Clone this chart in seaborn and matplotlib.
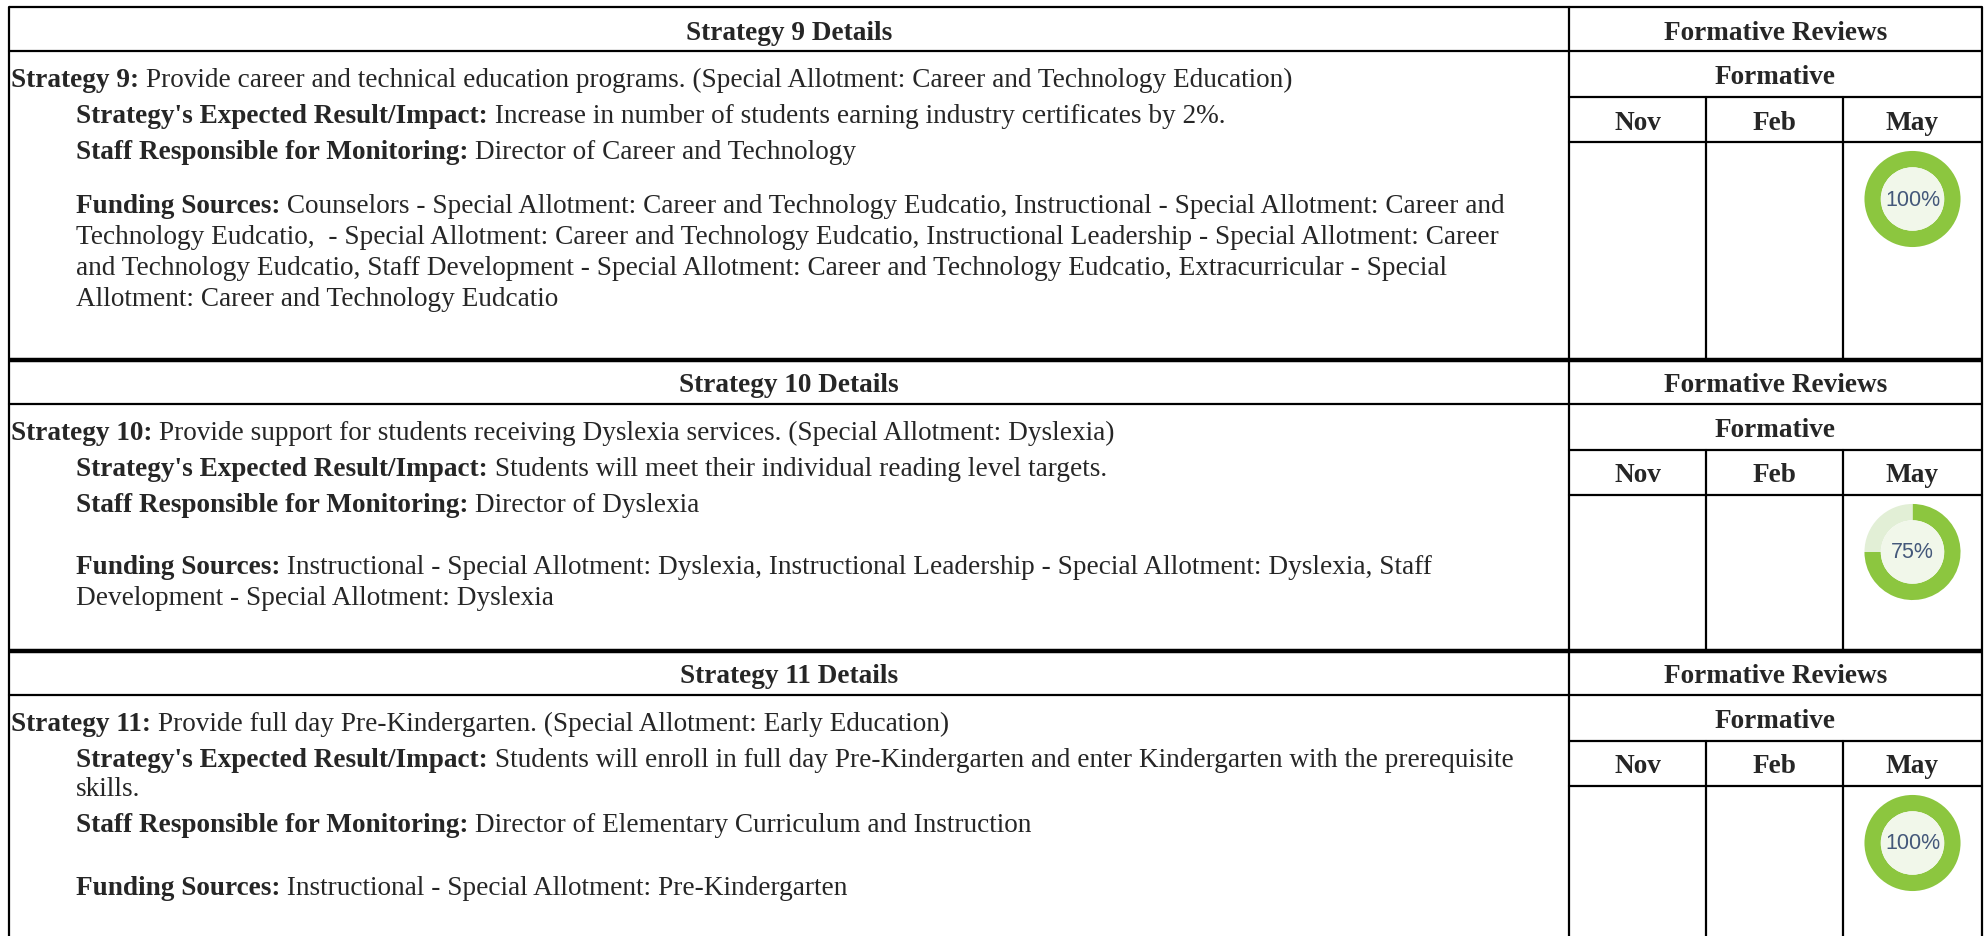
import matplotlib
matplotlib.use("Agg")
import matplotlib.pyplot as plt
import seaborn as sns

# strategy blocks
block_titles = ["Strategy 9 Details", "Strategy 10 Details", "Strategy 11 Details"]
strategy_labels = ["Strategy 9:", "Strategy 10:", "Strategy 11:"]
strategy_texts = [
    " Provide career and technical education programs. (Special Allotment: Career and Technology Education)",
    " Provide support for students receiving Dyslexia services. (Special Allotment: Dyslexia)",
    " Provide full day Pre-Kindergarten. (Special Allotment: Early Education)",
]
expected_lines = [
    [" Increase in number of students earning industry certificates by 2%."],
    [" Students will meet their individual reading level targets."],
    [" Students will enroll in full day Pre-Kindergarten and enter Kindergarten with the prerequisite",
     "skills."],
]
staff_texts = [
    " Director of Career and Technology",
    " Director of Dyslexia",
    " Director of Elementary Curriculum and Instruction",
]
funding_lines = [
    [" Counselors - Special Allotment: Career and Technology Eudcatio, Instructional - Special Allotment: Career and",
     "Technology Eudcatio,  - Special Allotment: Career and Technology Eudcatio, Instructional Leadership - Special Allotment: Career",
     "and Technology Eudcatio, Staff Development - Special Allotment: Career and Technology Eudcatio, Extracurricular - Special",
     "Allotment: Career and Technology Eudcatio"],
    [" Instructional - Special Allotment: Dyslexia, Instructional Leadership - Special Allotment: Dyslexia, Staff",
     "Development - Special Allotment: Dyslexia"],
    [" Instructional - Special Allotment: Pre-Kindergarten"],
]
review_months = ["Nov", "Feb", "May"]
may_progress = [100, 75, 100]

# page geometry (pixels)
W, H = 1984, 937
block_tops = [8, 361, 652]
block_bottoms = [361, 652, 960]
funding_gap = [54, 62, 63]
x_left, x_split, x_right = 9, 1569, 1982
month_x = [1569, 1706, 1843, 1982]
row_h = 45

sns.set_theme(style="white")
plt.rcParams["font.family"] = ["Liberation Serif", "DejaVu Serif"]
FS = 19.6

fig = plt.figure(figsize=(W / 100, H / 100), dpi=100)
ax = fig.add_axes([0, 0, 1, 1])
ax.set_xlim(0, W)
ax.set_ylim(H, 0)
ax.axis("off")

lw = 1.6


def label_line(x, y, bold, rest):
    t = ax.text(x, y, bold, fontsize=FS, fontweight="bold", va="baseline", ha="left")
    ax.annotate(rest, xy=(1, 0), xycoords=t, fontsize=FS, va="bottom", ha="left")


for i, top in enumerate(block_tops):
    bot = block_bottoms[i]
    # horizontal rules
    ax.plot([x_left, x_right], [top, top], color="black", lw=lw if i == 0 else 3.2,
            solid_capstyle="butt")
    ax.plot([x_left, x_right], [top + row_h - 1, top + row_h - 1], color="black", lw=lw)
    ax.plot([x_split, x_right], [top + 2 * row_h, top + 2 * row_h], color="black", lw=lw)
    ax.plot([x_split, x_right], [top + 3 * row_h, top + 3 * row_h], color="black", lw=lw)
    # vertical rules
    ax.plot([x_split, x_split], [top, bot], color="black", lw=lw)
    for mx in month_x[1:-1]:
        ax.plot([mx, mx], [top + 2 * row_h, bot], color="black", lw=lw)

    # headers
    ax.text((x_left + x_split) / 2, top + 22, block_titles[i], fontsize=FS,
            fontweight="bold", ha="center", va="center_baseline")
    ax.text((x_split + x_right) / 2, top + 22, "Formative Reviews", fontsize=FS,
            fontweight="bold", ha="center", va="center_baseline")
    ax.text((x_split + x_right) / 2, top + 67, "Formative", fontsize=FS,
            fontweight="bold", ha="center", va="center_baseline")
    for j, m in enumerate(review_months):
        ax.text((month_x[j] + month_x[j + 1]) / 2, top + 112, m, fontsize=FS,
                fontweight="bold", ha="center", va="center_baseline")

    # body text
    y = top + 79
    label_line(11, y, strategy_labels[i], strategy_texts[i])
    y += 36
    label_line(76, y, "Strategy's Expected Result/Impact:", expected_lines[i][0])
    for line in expected_lines[i][1:]:
        y += 29
        ax.text(76, y, line, fontsize=FS, va="baseline", ha="left")
    y += 36
    label_line(76, y, "Staff Responsible for Monitoring:", staff_texts[i])
    y += funding_gap[i]
    label_line(76, y, "Funding Sources:", funding_lines[i][0])
    for line in funding_lines[i][1:]:
        y += 31
        ax.text(76, y, line, fontsize=FS, va="baseline", ha="left")

    # May progress donut
    cx = (month_x[2] + month_x[3]) / 2
    cy = top + 3 * row_h + 57
    r = 49
    dax = fig.add_axes([(cx - r) / W, 1 - (cy + r) / H, 2 * r / W, 2 * r / H])
    p = may_progress[i]
    dax.pie([p, 100 - p], colors=["#8cc63f", "#e2efd6"], startangle=90,
            counterclock=False, radius=1.0,
            wedgeprops=dict(width=0.34, linewidth=0))
    dax.add_patch(plt.Circle((0, 0), 0.66, color="#f1f7ea", lw=0))
    dax.text(0, 0, f"{p}%", ha="center", va="center", fontsize=15.5,
             family="Liberation Sans", color="#44587a")
    dax.set_aspect("equal")
    dax.set_xlim(-1.02, 1.02)
    dax.set_ylim(-1.02, 1.02)
    dax.axis("off")

# outer border
ax.plot([x_left, x_left], [block_tops[0], H + 5], color="black", lw=lw)
ax.plot([x_right, x_right], [block_tops[0], H + 5], color="black", lw=lw)

fig.savefig("out.png", dpi=100)
